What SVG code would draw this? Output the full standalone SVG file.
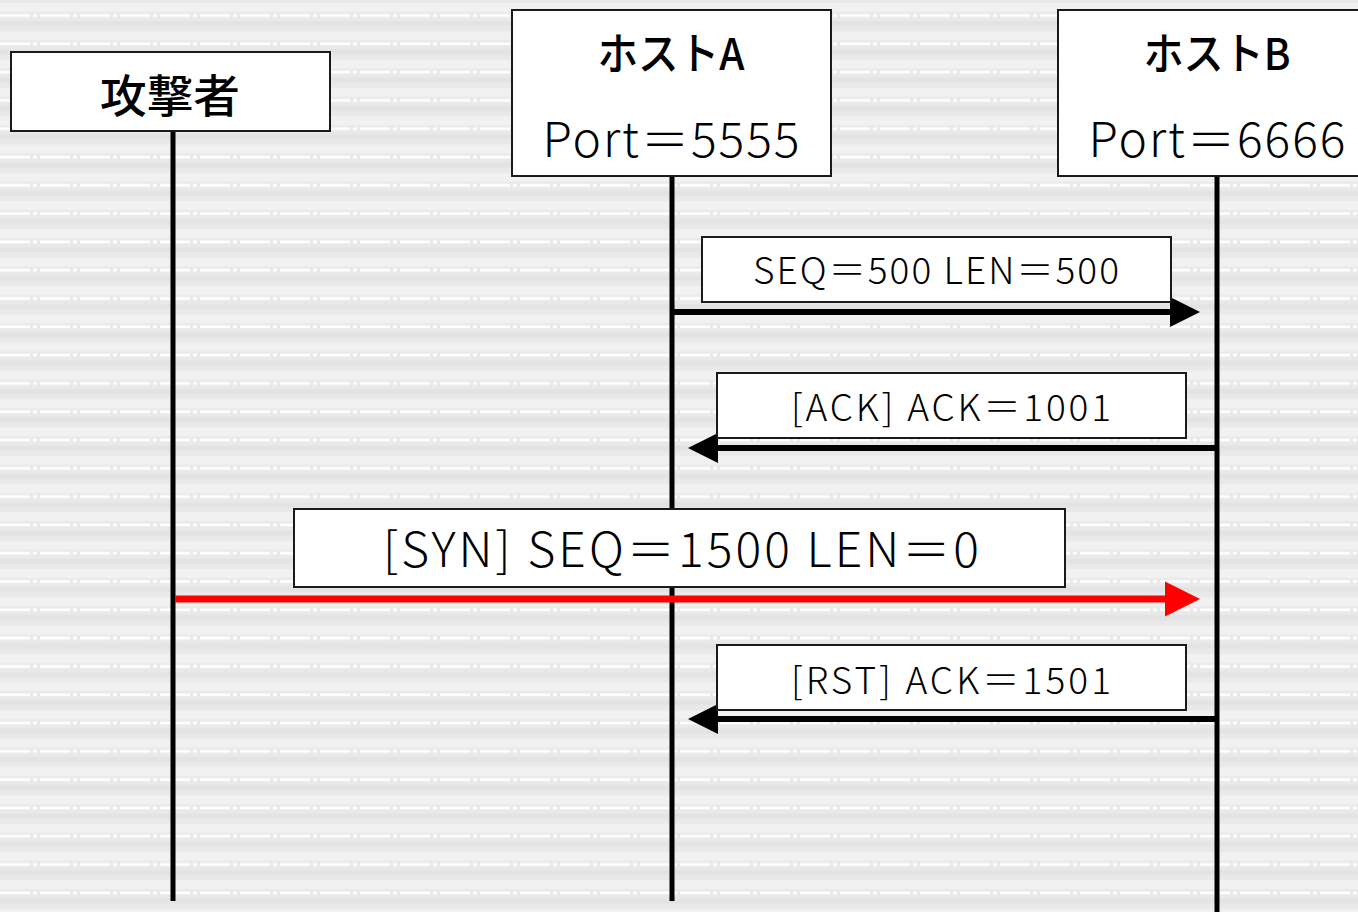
<svg xmlns="http://www.w3.org/2000/svg" width="1358" height="912" viewBox="0 0 1358 912">
<style>
.box{fill:#fff;stroke:#1a1a1a;stroke-width:2}
.t{font-family:"Noto Sans CJK JP","Liberation Sans",sans-serif;fill:#000;text-anchor:middle;font-weight:300}
.h{font-weight:500}
.life{stroke:#000;stroke-width:5}
.msg{stroke:#000;stroke-width:6;fill:none}
.atk{stroke:#f00;stroke-width:7;fill:none}
</style>
<defs>
<pattern id="bg" patternUnits="userSpaceOnUse" x="0" y="1" width="1358" height="28.3">
<rect width="1358" height="28.3" fill="#e9e9e9"/>
<rect y="2" width="1358" height="9" fill="#f1f1f1"/>
<rect y="20" width="1358" height="5" fill="#e3e3e3"/>
<line x1="0" y1="14.5" x2="1358" y2="14.5" stroke="#fff" stroke-width="2.5" stroke-dasharray="30 3 4 3"/>
</pattern>
<marker id="ah" markerUnits="userSpaceOnUse" markerWidth="30" markerHeight="30" refX="0" refY="15" orient="auto" overflow="visible">
<path d="M0,0 L30,15 L0,30 z" fill="#000"/>
</marker>
<marker id="ahr" markerUnits="userSpaceOnUse" markerWidth="35" markerHeight="35" refX="0" refY="17.5" orient="auto" overflow="visible">
<path d="M0,0 L35,17.5 L0,35 z" fill="#f00"/>
</marker>
</defs>
<rect width="1358" height="912" fill="url(#bg)"/>

<g id="lifelines">
<line class="life" x1="173" y1="131" x2="173" y2="901"/>
<line class="life" x1="672" y1="176" x2="672" y2="901"/>
<line class="life" x1="1217" y1="176" x2="1217" y2="912"/>
</g>

<g id="attacker">
<rect class="box" x="11" y="52" width="319" height="79"/>
<text class="t h" x="170" y="113" font-size="45" textLength="140" lengthAdjust="spacingAndGlyphs">攻撃者</text>
</g>
<g id="hostA">
<rect class="box" x="512" y="10" width="319" height="166"/>
<text class="t h" x="671" y="70" font-size="44" textLength="147" lengthAdjust="spacingAndGlyphs">ホストA</text>
<text class="t" x="671" y="157" font-size="48" textLength="257" lengthAdjust="spacing">Port＝5555</text>
</g>
<g id="hostB">
<rect class="box" x="1058" y="10" width="310" height="166"/>
<text class="t h" x="1217" y="70" font-size="44" textLength="147" lengthAdjust="spacingAndGlyphs">ホストB</text>
<text class="t" x="1217" y="157" font-size="48" textLength="257" lengthAdjust="spacing">Port＝6666</text>
</g>

<g id="connectors">
<line class="msg" x1="674" y1="312" x2="1170" y2="312" marker-end="url(#ah)"/>
<line class="msg" x1="1215" y1="448" x2="718" y2="448" marker-end="url(#ah)"/>
<line class="atk" x1="175" y1="599" x2="1165" y2="599" marker-end="url(#ahr)"/>
<line class="msg" x1="1215" y1="719" x2="718" y2="719" marker-end="url(#ah)"/>
</g>

<g id="label1">
<rect class="box" x="702" y="237" width="469" height="65"/>
<text class="t" x="936" y="284" font-size="37" textLength="366" lengthAdjust="spacing">SEQ＝500 LEN＝500</text>
</g>
<g id="label2">
<rect class="box" x="717" y="373" width="469" height="65"/>
<text class="t" x="951" y="421" font-size="37" textLength="320" lengthAdjust="spacing">[ACK] ACK＝1001</text>
</g>
<g id="label3">
<rect class="box" x="294" y="509" width="771" height="78"/>
<text class="t" x="681" y="567" font-size="48" textLength="596" lengthAdjust="spacing">[SYN] SEQ＝1500 LEN＝0</text>
</g>
<g id="label4">
<rect class="box" x="717" y="645" width="469" height="65"/>
<text class="t" x="951" y="694" font-size="37" textLength="320" lengthAdjust="spacing">[RST] ACK＝1501</text>
</g>
</svg>
